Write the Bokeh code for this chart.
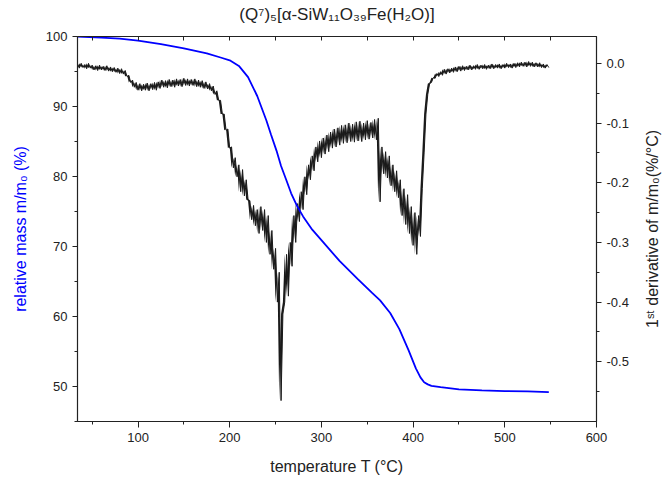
from bokeh.plotting import figure
from bokeh.layouts import row
from bokeh.models import (Range1d, LinearAxis, SingleIntervalTicker, FixedTicker,
                          NumeralTickFormatter)
from bokeh.embed import file_html
from bokeh.resources import INLINE

# ---- data ----
title_text = "(Q\u2077)\u2085[\u03b1-SiW\u2081\u2081O\u2083\u2089Fe(H\u2082O)]"
x_label = "temperature T (\u00b0C)"
left_label = "relative mass m/m\u2080 (%)"
right_label = "1\u02e2\u1d57 derivative of m/m\u2080(%/\u00b0C)"

top_minor_ticks = [50, 100, 150, 200, 250, 300, 350, 400, 450, 500, 550, 600]

tga_temp = [34, 60, 80, 100, 125, 150, 175, 190, 200, 210, 220, 230, 240, 245, 251, 256, 262, 267,
            273, 280, 290, 300, 320, 340, 355, 364, 375, 385, 395, 403, 408, 412, 416, 420, 430,
            450, 475, 500, 525, 548]
tga_mass = [100.0, 99.85, 99.7, 99.4, 98.9, 98.3, 97.6, 97.0, 96.6, 95.8, 94.2, 91.5, 88.0, 86.0,
            83.7, 81.5, 79.4, 77.6, 75.9, 74.3, 72.4, 70.9, 67.9, 65.3, 63.4, 62.3, 60.5, 58.2,
            55.2, 52.6, 51.3, 50.6, 50.3, 50.1, 49.9, 49.6, 49.45, 49.35, 49.3, 49.2]

dtg_start = 34
dtg_step = 2
dtg_vals = [
    -0.001, -0.008, 0.000, -0.007, -0.002, -0.009, 0.000, -0.008, -0.003, -0.011,
    -0.004, -0.012, -0.003, -0.011, -0.005, -0.012, -0.004, -0.013, -0.006, -0.014,
    -0.007, -0.015, -0.008, -0.017, -0.009, -0.018, -0.012, -0.022, -0.020, -0.032,
    -0.028, -0.040, -0.032, -0.045, -0.034, -0.046, -0.035, -0.045, -0.033, -0.046,
    -0.034, -0.044, -0.032, -0.045, -0.031, -0.042, -0.028, -0.040, -0.029, -0.041,
    -0.027, -0.039, -0.028, -0.040, -0.026, -0.038, -0.027, -0.039, -0.025, -0.037,
    -0.026, -0.038, -0.027, -0.037, -0.026, -0.039, -0.028, -0.040, -0.029, -0.042,
    -0.031, -0.043, -0.034, -0.046, -0.038, -0.052, -0.046, -0.062, -0.062, -0.085,
    -0.085, -0.112, -0.110, -0.142, -0.140, -0.175, -0.158, -0.190, -0.170, -0.215,
    -0.178, -0.222, -0.195, -0.228, -0.230, -0.262, -0.238, -0.272, -0.245, -0.285,
    -0.240, -0.280, -0.245, -0.300, -0.255, -0.320, -0.280, -0.345, -0.310, -0.400,
    -0.350, -0.565, -0.420, -0.400, -0.320, -0.390, -0.300, -0.340, -0.255, -0.300,
    -0.235, -0.265, -0.215, -0.245, -0.190, -0.220, -0.170, -0.195, -0.155, -0.180,
    -0.140, -0.165, -0.130, -0.158, -0.125, -0.152, -0.120, -0.148, -0.115, -0.142,
    -0.110, -0.140, -0.108, -0.137, -0.104, -0.134, -0.103, -0.133, -0.100, -0.131,
    -0.102, -0.132, -0.098, -0.130, -0.097, -0.131, -0.100, -0.128, -0.096, -0.127,
    -0.099, -0.125, -0.094, -0.128, -0.092, -0.232, -0.140, -0.185, -0.148, -0.192,
    -0.155, -0.205, -0.170, -0.215, -0.180, -0.225, -0.195, -0.255, -0.210, -0.270,
    -0.220, -0.285, -0.240, -0.305, -0.250, -0.320, -0.255, -0.290, -0.210, -0.150,
    -0.085, -0.052, -0.034, -0.032, -0.024, -0.025, -0.017, -0.022, -0.014, -0.020,
    -0.010, -0.018, -0.009, -0.016, -0.008, -0.015, -0.006, -0.014, -0.005, -0.013,
    -0.004, -0.012, -0.005, -0.011, -0.003, -0.011, -0.004, -0.010, -0.002, -0.010,
    -0.003, -0.009, -0.002, -0.010, -0.003, -0.009, -0.001, -0.009, -0.002, -0.008,
    -0.001, -0.009, -0.002, -0.008, 0.000, -0.007, -0.001, -0.008, 0.000, -0.007,
    0.001, -0.006, 0.002, -0.005, 0.002, -0.006, 0.003, -0.005, 0.002, -0.006,
    0.001, -0.006, 0.001, -0.007, -0.001, -0.008, -0.002, -0.007,
]
dtg_temp = [dtg_start + dtg_step * i for i in range(len(dtg_vals))]

x_range = (34, 600)
left_range = (45, 100)
right_range = (-0.6, 0.045)

FONT = "Liberation Sans"
AX = "#222222"
BORDER_TOP = 36
BORDER_BOTTOM = 61

p = figure(width=640, height=482, output_backend="svg", toolbar_location=None,
           x_range=Range1d(*x_range), y_range=Range1d(*left_range),
           min_border_left=77, min_border_right=44,
           min_border_top=BORDER_TOP, min_border_bottom=BORDER_BOTTOM)
p.extra_y_ranges = {"dtg": Range1d(*right_range)}

p.xgrid.visible = False
p.ygrid.visible = False
p.outline_line_color = AX
p.background_fill_color = "white"
p.border_fill_color = "white"


def style(ax, major_out=5, minor_out=3, major_in=0, minor_in=0):
    ax.axis_line_color = AX
    ax.axis_line_width = 1.2
    ax.major_tick_line_color = AX
    ax.minor_tick_line_color = AX
    ax.major_tick_out = major_out
    ax.minor_tick_out = minor_out
    ax.major_tick_in = major_in
    ax.minor_tick_in = minor_in
    ax.major_label_text_font = FONT
    ax.major_label_text_font_size = "13px"
    ax.major_label_text_color = AX
    ax.axis_label_text_font = FONT
    ax.axis_label_text_font_size = "16px"
    ax.axis_label_text_font_style = "normal"
    ax.axis_label_text_color = AX


xax = p.xaxis[0]
xax.ticker = SingleIntervalTicker(interval=100, num_minor_ticks=2)
xax.axis_label = x_label
style(xax, 6, 3)
xax.axis_label_standoff = 13

yax = p.yaxis[0]
yax.ticker = SingleIntervalTicker(interval=10, num_minor_ticks=2)
yax.axis_label = left_label
style(yax, 5, 3)
yax.axis_label_text_color = "#0000ff"
yax.axis_label_standoff = 14

rax = LinearAxis(y_range_name="dtg",
                 ticker=SingleIntervalTicker(interval=0.1, num_minor_ticks=2),
                 formatter=NumeralTickFormatter(format="0.0"))
style(rax, 5, 3)
p.add_layout(rax, "right")

# top frame edge: inward ticks, chart title as its label
tax = LinearAxis(ticker=FixedTicker(ticks=[], minor_ticks=top_minor_ticks))
style(tax, 0, 0, 5, 4)
tax.axis_label = title_text
tax.axis_label_text_font_size = "17px"
tax.axis_label_standoff = 13
p.add_layout(tax, "above")

# noise band filled between neighbouring samples, then the trace itself
p.varea(x=dtg_temp[:-1], y1=dtg_vals[:-1], y2=dtg_vals[1:], y_range_name="dtg",
        fill_color="#1a1a1a", fill_alpha=1.0)
p.line(dtg_temp, dtg_vals, y_range_name="dtg", line_color="#1a1a1a", line_width=1)
p.line(tga_temp, tga_mass, line_color="#0000ff", line_width=1.8)

# narrow companion panel that carries the right-hand axis title (reads bottom-to-top)
p2 = figure(width=28, height=482, output_backend="svg", toolbar_location=None,
            x_range=Range1d(0, 1), y_range=Range1d(0, 1), x_axis_location=None,
            min_border_left=18, min_border_right=0,
            min_border_top=BORDER_TOP, min_border_bottom=BORDER_BOTTOM)
p2.xgrid.visible = False
p2.ygrid.visible = False
p2.outline_line_color = None
p2.background_fill_color = "white"
p2.border_fill_color = "white"
lab = p2.yaxis[0]
lab.ticker = FixedTicker(ticks=[], minor_ticks=[])
lab.axis_line_color = None
lab.major_tick_line_color = None
lab.minor_tick_line_color = None
lab.axis_label = right_label
lab.axis_label_standoff = 0
lab.axis_label_text_font = FONT
lab.axis_label_text_font_size = "16px"
lab.axis_label_text_font_style = "normal"
lab.axis_label_text_color = AX

layout = row(p, p2, spacing=0)
open("out.html", "w").write(file_html(layout, INLINE))
